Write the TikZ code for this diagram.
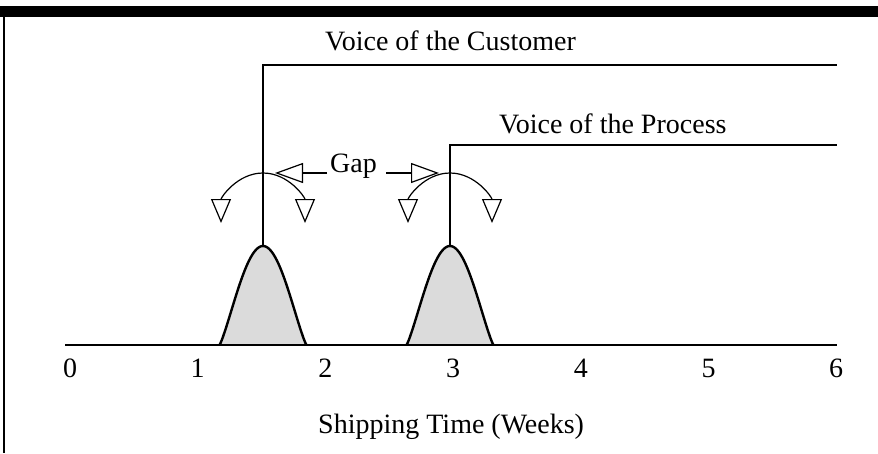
\documentclass[tikz,border=0pt]{standalone}
\usepackage{fontspec}
\setmainfont{Liberation Serif}
\usetikzlibrary{arrows.meta}
\begin{document}
\begin{tikzpicture}[x=1pt,y=-1pt,
  lbl/.style={inner sep=0pt,font=\fontsize{28}{32}\selectfont},
  heavy/.style={line width=2.7pt},
  thin/.style={line width=1.2pt},
  opentip/.style={-{Triangle[open,length=24pt,width=20pt,line width=1.2pt]}},
  gaptip/.style={-{Triangle[open,length=28pt,width=20pt,line width=1.2pt]}},
  bell/.style={line width=2.4pt,fill=black!14}]
\useasboundingbox (0,0) rectangle (878,453);
% frame
\fill (0,6) rectangle (878,17);
\draw[line width=2pt] (4,6) -- (4,453);
% axis
\coordinate (a0) at (65,345);
\coordinate (a6) at (837,345);
% bells
\filldraw[bell] plot[domain=-1:1,samples=81,smooth] ({263+43.5*\x},{345-99*pow(max(cos(90*\x),0.000001),1.2)});
\filldraw[bell] plot[domain=-1:1,samples=81,smooth] ({450+43.5*\x},{345-99*pow(max(cos(90*\x),0.000001),1.2)});
\draw[heavy] (a0) -- (a6);
% tick labels
\foreach \i in {0,...,6} {
  \node[lbl,anchor=base] (t\i) at ({70+127.7*\i},377) {\i};
}
\node[lbl,anchor=base west] (xlab) at (318,433) {Shipping Time (Weeks)};
% voice of the customer
\coordinate (p1) at (263,246);
\coordinate (c1) at (263,65);
\coordinate (e1) at (837,65);
\draw[heavy] (p1) -- (c1) -- (e1);
\node[lbl,anchor=base west] (voc) at (325,50) {Voice of the Customer};
% voice of the process
\coordinate (p2) at (450,246);
\coordinate (c2) at (450,145);
\coordinate (e2) at (837,145);
\draw[heavy] (p2) -- (c2) -- (e2);
\node[lbl,anchor=base west] (vop) at (499,133) {Voice of the Process};
% gap
\node[lbl,anchor=base west] (gap) at (330,172) {Gap};
\coordinate (gl) at (275,173);
\coordinate (gr) at (439,173);
\coordinate (gls) at (327,173);
\coordinate (grs) at (386,173);
\draw[thin,gaptip] (gls) -- (gl);
\draw[thin,gaptip] (grs) -- (gr);
% curved arrows
\coordinate (m1) at (263,173);
\coordinate (m2) at (450,173);
\coordinate (d1l) at (221,223);
\coordinate (d1r) at (305,223);
\coordinate (d2l) at (408,223);
\coordinate (d2r) at (492,223);
\draw[thin,opentip] (m1) to[out=180,in=90] (d1l);
\draw[thin,opentip] (m1) to[out=0,in=90] (d1r);
\draw[thin,opentip] (m2) to[out=180,in=90] (d2l);
\draw[thin,opentip] (m2) to[out=0,in=90] (d2r);
\end{tikzpicture}
\end{document}
